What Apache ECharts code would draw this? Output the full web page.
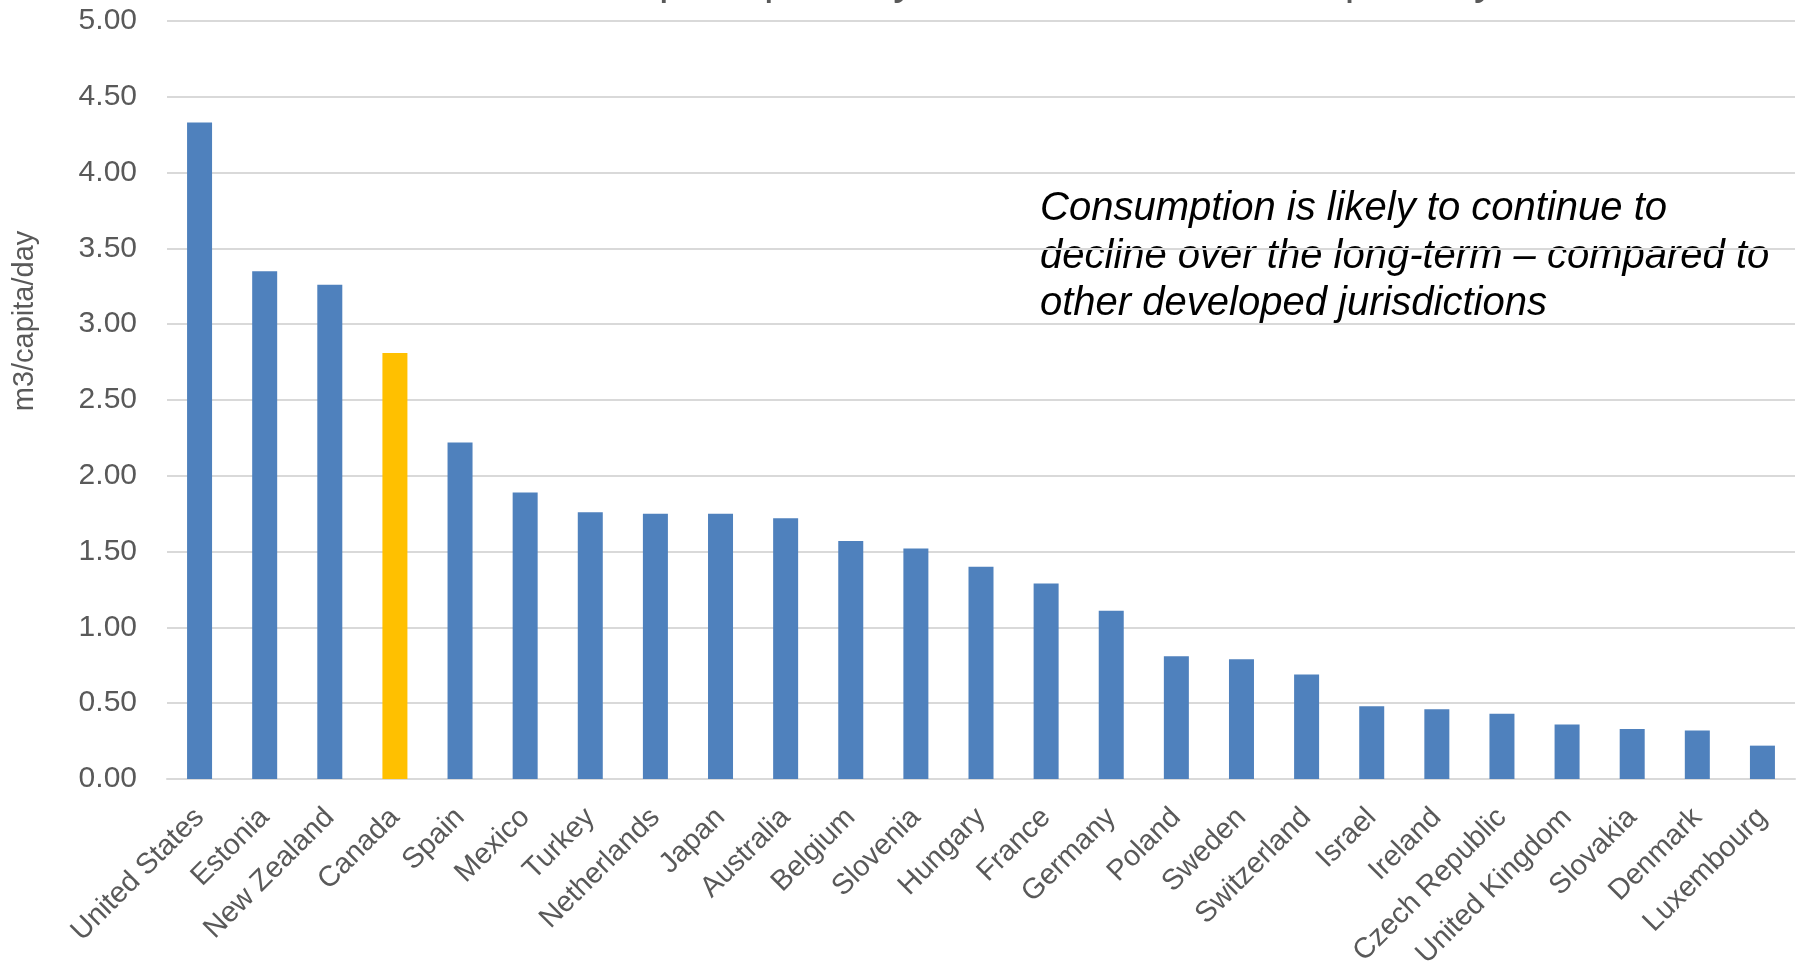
<!DOCTYPE html>
<html>
<head>
<meta charset="utf-8">
<script src="https://cdn.jsdelivr.net/npm/echarts@6/dist/echarts.min.js"></script>
<style>html,body{margin:0;padding:0;background:#fff}#c{width:1800px;height:966px}</style>
</head>
<body>
<div id="c"></div>
<script>
const categories = ["United States","Estonia","New Zealand","Canada","Spain","Mexico","Turkey","Netherlands","Japan","Australia","Belgium","Slovenia","Hungary","France","Germany","Poland","Sweden","Switzerland","Israel","Ireland","Czech Republic","United Kingdom","Slovakia","Denmark","Luxembourg"];
const values = [4.33,3.35,3.26,2.81,2.22,1.89,1.76,1.75,1.75,1.72,1.57,1.52,1.40,1.29,1.11,0.81,0.79,0.69,0.48,0.46,0.43,0.36,0.33,0.32,0.22];
const highlight = "Canada";
const titleText = "Total Water Consumption per Day \u2013 All Sources \u2013 m3/capita/day";
const yAxisName = "m3/capita/day";
const noteLines = ["Consumption is likely to continue to","decline over the long-term \u2013 compared to","other developed jurisdictions"];

const chart = echarts.init(document.getElementById('c'));
chart.setOption({
  animation: false,
  grid: {left: 167, right: 5, top: 21, bottom: 187, containLabel: false, outerBoundsMode: 'none'},
  xAxis: {
    type: 'category', data: categories,
    axisLine: {lineStyle: {color: '#d9d9d9', width: 2}},
    axisTick: {show: false},
    axisLabel: {rotate: 45, interval: 0, margin: 34, color: '#595959', fontSize: 29, fontFamily: 'Liberation Sans'}
  },
  yAxis: {
    type: 'value', min: 0, max: 5, interval: 0.5,
    axisLine: {show: false}, axisTick: {show: false},
    splitLine: {lineStyle: {color: '#d9d9d9', width: 2}},
    axisLabel: {formatter: v => v.toFixed(2), color: '#595959', fontSize: 30, margin: 30, fontFamily: 'Liberation Sans'}
  },
  series: [{
    type: 'bar', barWidth: 25,
    data: categories.map((c, i) => ({value: values[i], itemStyle: {color: c === highlight ? '#FFC000' : '#4F81BD'}}))
  }],
  graphic: [
    {type: 'text', x: 271, y: 4, style: {text: titleText, fill: '#595959', font: '43px "Liberation Sans"', textAlign: 'left', textVerticalAlign: 'bottom'}},
    {type: 'text', x: 25, y: 321, rotation: Math.PI / 2, style: {text: yAxisName, fill: '#595959', font: '29px "Liberation Sans"', textAlign: 'center', textVerticalAlign: 'middle'}},
    {type: 'text', left: 1040, top: 185, style: {text: noteLines.join('\n'), fill: '#000', font: 'italic 40px "Liberation Sans"', lineHeight: 47.6}}
  ]
});
</script>
</body>
</html>
